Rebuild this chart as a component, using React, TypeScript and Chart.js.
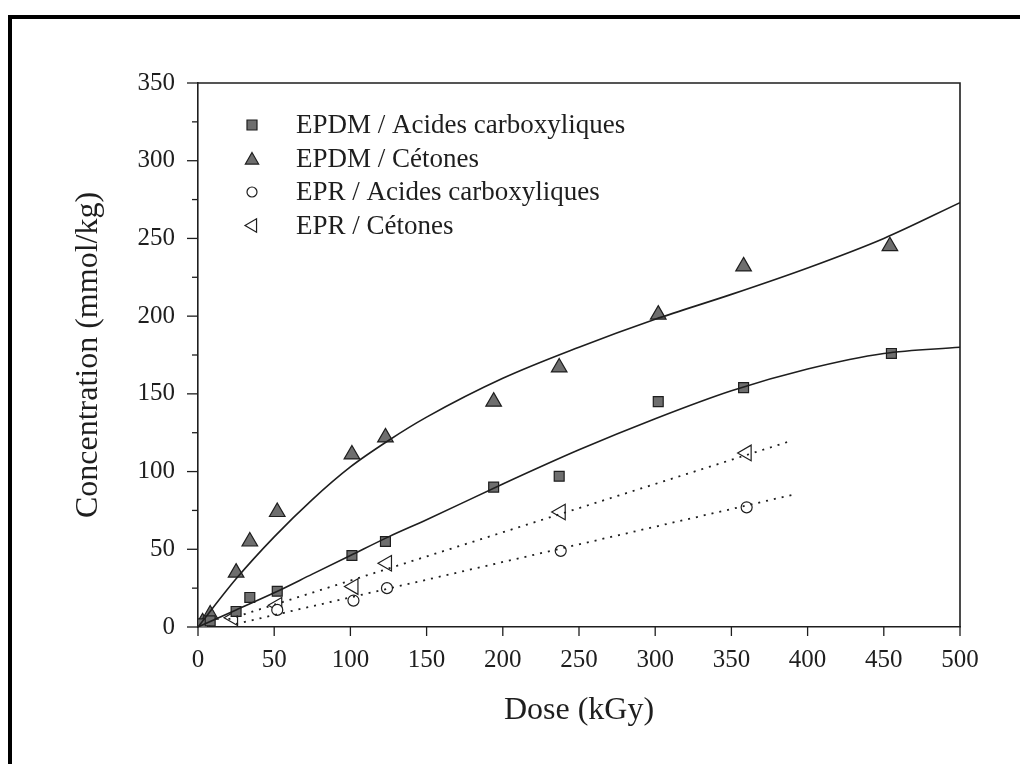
import React, { useEffect, useRef } from "react";
import { Chart, registerables } from "chart.js";
Chart.register(...registerables);

// ---- Data ----
const doseEpdmAcid = [3, 8, 25, 34, 52, 101, 123, 194, 237, 302, 358, 455];
const concEpdmAcid = [2, 4, 10, 19, 23, 46, 55, 90, 97, 145, 154, 176];
const doseEpdmKet = [3, 8, 25, 34, 52, 101, 123, 194, 237, 302, 358, 454];
const concEpdmKet = [3, 8, 35, 55, 74, 111, 122, 145, 167, 201, 232, 245];
const doseEprAcid = [52, 102, 124, 238, 360];
const concEprAcid = [11, 17, 25, 49, 77];
const doseEprKet = [23, 52, 102, 124, 238, 360];
const concEprKet = [6, 14, 26, 41, 74, 112];

// fitted curves
const fitDose = [0, 25, 50, 75, 100, 125, 150, 200, 250, 300, 350, 400, 450, 500];
const fitEpdmKet = [0, 31, 58, 82, 103, 120, 135, 160, 180, 198, 214, 231, 250, 273];
const fitEpdmAcid = [0, 11, 22, 34, 46, 58, 69, 92, 114, 134, 152, 166, 176, 180];
const fitEprAcidDose = [25, 390];
const fitEprAcid = [2, 85];
const fitEprKetDose = [20, 390];
const fitEprKet = [5, 120];

const legendLabels = [
  "EPDM / Acides carboxyliques",
  "EPDM / Cétones",
  "EPR / Acides carboxyliques",
  "EPR / Cétones",
];

const xTitle = "Dose (kGy)";
const yTitle = "Concentration (mmol/kg)";

const pts = (xs: number[], ys: number[]) => xs.map((x, i) => ({ x, y: ys[i] }));

const INK = "#1e1e1e";
const FILL = "#6e6e6e";
const SERIF = "'Liberation Serif', 'Times New Roman', serif";

function marker(ctx: CanvasRenderingContext2D, kind: string, x: number, y: number, r: number, fill: string) {
  ctx.beginPath();
  if (kind === "rect") {
    ctx.rect(x - r, y - r, 2 * r, 2 * r);
  } else if (kind === "circle") {
    ctx.arc(x, y, r, 0, Math.PI * 2);
  } else if (kind === "triUp") {
    ctx.moveTo(x, y - r);
    ctx.lineTo(x + r * 0.95, y + r * 0.65);
    ctx.lineTo(x - r * 0.95, y + r * 0.65);
    ctx.closePath();
  } else {
    ctx.moveTo(x - r, y);
    ctx.lineTo(x + r * 0.65, y - r * 0.95);
    ctx.lineTo(x + r * 0.65, y + r * 0.95);
    ctx.closePath();
  }
  ctx.fillStyle = fill;
  ctx.fill();
  ctx.stroke();
}

const decorPlugin = {
  id: "decor",
  afterDraw(chart: any) {
    const { ctx, chartArea, scales } = chart;
    const xs = scales.x;
    const ys = scales.y;
    ctx.save();
    ctx.strokeStyle = INK;
    ctx.lineWidth = 1.6;
    // frame top & right
    ctx.beginPath();
    ctx.moveTo(chartArea.left, chartArea.top);
    ctx.lineTo(chartArea.right, chartArea.top);
    ctx.lineTo(chartArea.right, chartArea.bottom);
    ctx.stroke();
    // y ticks (major + minor)
    ctx.lineWidth = 1.3;
    for (let v = 0; v <= 350; v += 25) {
      const y = ys.getPixelForValue(v);
      const len = v % 50 === 0 ? 11 : 6;
      ctx.beginPath();
      ctx.moveTo(chartArea.left - len, y);
      ctx.lineTo(chartArea.left, y);
      ctx.stroke();
    }
    // x ticks
    for (let v = 0; v <= 500; v += 50) {
      const x = xs.getPixelForValue(v);
      ctx.beginPath();
      ctx.moveTo(x, chartArea.bottom);
      ctx.lineTo(x, chartArea.bottom + 9);
      ctx.stroke();
    }
    // legend
    const lx = chartArea.left + 54;
    const ty = chartArea.top + 42;
    const gap = 33.5;
    const styles = [
      { kind: "rect", r: 5, fill: FILL },
      { kind: "triUp", r: 7, fill: FILL },
      { kind: "circle", r: 5, fill: "#ffffff" },
      { kind: "triLeft", r: 7, fill: "#ffffff" },
    ];
    legendLabels.forEach((lab, i) => {
      const y = ty + i * gap;
      const s = styles[i];
      ctx.strokeStyle = INK;
      ctx.lineWidth = 1.2;
      marker(ctx, s.kind, lx, y + (s.kind === "triUp" ? 1 : 0), s.r, s.fill);
      ctx.font = `27px ${SERIF}`;
      ctx.textBaseline = "middle";
      ctx.textAlign = "left";
      ctx.fillStyle = INK;
      ctx.fillText(lab, lx + 44, y + 1);
    });
    ctx.restore();
  },
};

export default function App() {
  const ref = useRef<HTMLCanvasElement>(null);
  useEffect(() => {
    if (!ref.current) return;
    const chart = new Chart(ref.current, {
      type: "scatter",
      data: {
        datasets: [
          {
            label: "fitEpdmKet",
            data: pts(fitDose, fitEpdmKet),
            showLine: true,
            borderColor: INK,
            borderWidth: 1.6,
            pointRadius: 0,
            cubicInterpolationMode: "monotone",
          },
          {
            label: "fitEpdmAcid",
            data: pts(fitDose, fitEpdmAcid),
            showLine: true,
            borderColor: INK,
            borderWidth: 1.6,
            pointRadius: 0,
            cubicInterpolationMode: "monotone",
          },
          {
            label: "fitEprKet",
            data: pts(fitEprKetDose, fitEprKet),
            showLine: true,
            borderColor: INK,
            borderWidth: 1.8,
            borderDash: [2, 6],
            pointRadius: 0,
          },
          {
            label: "fitEprAcid",
            data: pts(fitEprAcidDose, fitEprAcid),
            showLine: true,
            borderColor: INK,
            borderWidth: 1.8,
            borderDash: [2, 6],
            pointRadius: 0,
          },
          {
            label: legendLabels[0],
            data: pts(doseEpdmAcid, concEpdmAcid),
            pointStyle: "rect",
            pointRadius: 7,
            backgroundColor: FILL,
            borderColor: INK,
            borderWidth: 1.2,
          },
          {
            label: legendLabels[1],
            data: pts(doseEpdmKet, concEpdmKet),
            pointStyle: "triangle",
            pointRadius: 9,
            backgroundColor: FILL,
            borderColor: INK,
            borderWidth: 1.2,
          },
          {
            label: legendLabels[2],
            data: pts(doseEprAcid, concEprAcid),
            pointStyle: "circle",
            pointRadius: 5.5,
            backgroundColor: "#ffffff",
            borderColor: INK,
            borderWidth: 1.2,
          },
          {
            label: legendLabels[3],
            data: pts(doseEprKet, concEprKet),
            pointStyle: "triangle",
            rotation: -90,
            pointRadius: 9,
            backgroundColor: "#ffffff",
            borderColor: INK,
            borderWidth: 1.2,
          },
        ],
      },
      options: {
        responsive: false,
        animation: false,
        devicePixelRatio: 1,
        layout: { padding: { left: 0, top: 83, right: 60, bottom: 0 } },
        plugins: { legend: { display: false }, tooltip: { enabled: false } },
        scales: {
          x: {
            type: "linear",
            min: 0,
            max: 500,
            afterFit: (s: any) => {
              s.height = 137;
            },
            ticks: {
              stepSize: 50,
              color: INK,
              padding: 18,
              font: { family: SERIF, size: 25 },
            },
            grid: { display: false, drawTicks: false },
            border: { display: true, color: INK, width: 1.6 },
            title: {
              display: true,
              text: xTitle,
              color: INK,
              font: { family: SERIF, size: 32 },
              padding: { top: 0, bottom: 34 },
            },
          },
          y: {
            type: "linear",
            min: 0,
            max: 350,
            afterFit: (s: any) => {
              s.width = 198;
            },
            ticks: {
              stepSize: 50,
              color: INK,
              padding: 23,
              font: { family: SERIF, size: 25 },
            },
            grid: { display: false, drawTicks: false },
            border: { display: true, color: INK, width: 1.6 },
            title: {
              display: true,
              text: yTitle,
              color: INK,
              font: { family: SERIF, size: 32 },
              padding: { top: 69, bottom: 0 },
            },
          },
        },
      },
      plugins: [decorPlugin],
    } as any);
    return () => chart.destroy();
  }, []);

  return (
    <div style={{ position: "fixed", left: 0, top: 0, width: 1020, height: 764, background: "#fff", overflow: "hidden" }}>
      <canvas ref={ref} width={1020} height={764} style={{ position: "absolute", left: 0, top: 0 }} />
      <div
        style={{
          position: "absolute",
          left: 8,
          top: 15,
          width: 1100,
          height: 900,
          borderTop: "4px solid #000",
          borderLeft: "4px solid #000",
          pointerEvents: "none",
        }}
      />
    </div>
  );
}
